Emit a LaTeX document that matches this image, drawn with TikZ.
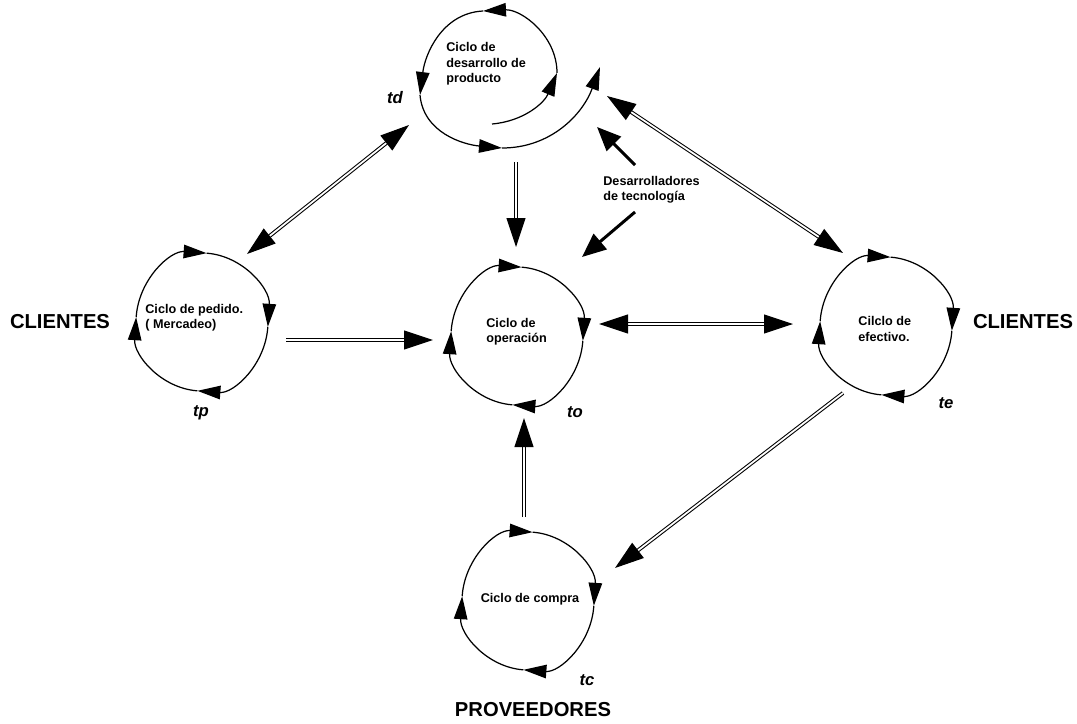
\documentclass[tikz,border=0pt]{standalone}
\usepackage{fontspec}
\setmainfont{Liberation Sans}
\usepackage{tikz}
\usetikzlibrary{arrows.meta, positioning}

\begin{document}
\begin{tikzpicture}[x=0.02cm, y=0.02cm,
    cyc/.style={line width=0.7pt, -{Triangle[length=0.46cm, width=0.27cm]}},
    dbl/.style={double, double distance=1pt, line width=0.6pt},
    dtip/.style={-{Triangle[length=0.58cm, width=0.38cm]}},
    dtips/.style={{Triangle[length=0.58cm, width=0.38cm]}-{Triangle[length=0.58cm, width=0.38cm]}},
    devarrow/.style={line width=1.7pt, -{Triangle[length=0.48cm, width=0.4cm]}},
    cyctext/.style={font=\fontsize{7.2}{8.7}\selectfont\bfseries, align=left, inner sep=0pt},
    bigtext/.style={font=\fontsize{11.5}{13}\selectfont\bfseries, inner sep=0pt},
    ttext/.style={font=\fontsize{9.5}{11}\selectfont\bfseries\itshape, inner sep=0pt}]
    \useasboundingbox (0,0) rectangle (1077,-723);

    % centros de los ciclos
    \coordinate (ped) at (202,-322);
    \coordinate (ope) at (517,-336);
    \coordinate (efe) at (886,-326);
    \coordinate (com) at (528,-601);

    % ciclos
    \foreach \c in {ped, ope, efe, com}
        \foreach \a in {176,86,-4,-94}
            \draw[cyc] (\c) ++(\a:66 and 69) arc[start angle=\a, end angle=\a-90, x radius=66, y radius=69];

    % espiral de desarrollo de producto
    \coordinate (s0) at (492,-124);
    \coordinate (s1) at (557,-73);
    \coordinate (s2) at (483,-11);
    \coordinate (s3) at (420,-95);
    \coordinate (s4) at (502,-148);
    \coordinate (s5) at (600,-67);
    \draw[cyc] (s0) to[out=5, in=-113] (s1);
    \draw[cyc] (s1) to[out=90, in=3] (s2);
    \draw[cyc] (s2) to[out=183, in=83] (s3);
    \draw[cyc] (s3) to[out=-85, in=175] (s4);
    \draw[cyc] (s4) to[out=0, in=-110] (s5);

    % textos de los ciclos
    \node[cyctext, anchor=west] (destxt) at (446,-64) {Ciclo de\\desarrollo de\\producto};
    \node[cyctext, anchor=west] (pedtxt) at (145,-318) {Ciclo de pedido.\\( Mercadeo)};
    \node[cyctext, anchor=west] (opetxt) at (486,-332) {Ciclo de\\operación};
    \node[cyctext, anchor=west] (efetxt) at (858,-329) {Cilclo de\\efectivo.};
    \node[cyctext] (comtxt) at (530,-599) {Ciclo de compra};
    \node[cyctext, anchor=west] (tec) at (603,-190) {Desarrolladores\\de tecnología};

    % tiempos
    \node[ttext] (td) at (395,-98) {td};
    \node[ttext] (tp) at (201,-413) {tp};
    \node[ttext] (tiempo-o) at (575,-412) {to};
    \node[ttext] (te) at (946,-403) {te};
    \node[ttext] (tc) at (587,-680) {tc};

    % actores
    \node[bigtext] (cli1) at (60,-322) {CLIENTES};
    \node[bigtext] (cli2) at (1023,-322) {CLIENTES};
    \node[bigtext] (prov) at (533,-710) {PROVEEDORES};

    % extremos de las flechas
    \coordinate (ped-a) at (247,-254);
    \coordinate (des-a) at (409,-125);
    \coordinate (des-b) at (516,-162);
    \coordinate (ope-a) at (516,-247);
    \coordinate (ped-b) at (286,-340);
    \coordinate (ope-b) at (433,-340);
    \coordinate (ope-c) at (599,-324);
    \coordinate (efe-a) at (793,-324);
    \coordinate (des-c) at (607,-96);
    \coordinate (efe-b) at (843,-253);
    \coordinate (efe-c) at (843,-393);
    \coordinate (com-a) at (615,-568);
    \coordinate (com-b) at (524,-517);
    \coordinate (ope-d) at (524,-418);
    \coordinate (tec-a) at (635,-165);
    \coordinate (des-d) at (597,-127);
    \coordinate (tec-b) at (635,-212);
    \coordinate (ope-e) at (582,-257);

    % flechas dobles
    \draw[dbl, dtips] (ped-a) -- (des-a);
    \draw[dbl, dtip] (des-b) -- (ope-a);
    \draw[dbl, dtip] (ped-b) -- (ope-b);
    \draw[dbl, dtips] (ope-c) -- (efe-a);
    \draw[dbl, dtips] (des-c) -- (efe-b);
    \draw[dbl, dtip] (efe-c) -- (com-a);
    \draw[dbl, dtip] (com-b) -- (ope-d);

    % desarrolladores de tecnologia
    \draw[devarrow] (tec-a) -- (des-d);
    \draw[devarrow] (tec-b) -- (ope-e);
\end{tikzpicture}
\end{document}
